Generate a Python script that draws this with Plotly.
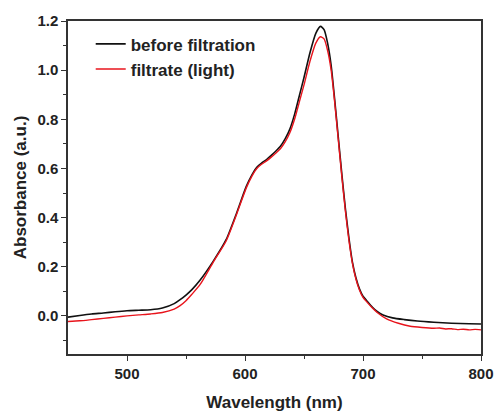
import plotly.graph_objects as go

# Black: before filtration
wl_before = [450, 460, 470, 480, 490, 500, 510, 520, 530, 540, 545, 550, 555, 562, 573,
             584, 593, 601, 606, 610, 614, 618, 622, 626, 630, 634, 638, 642, 646, 650,
             655, 660, 664, 667, 670, 673, 676, 679, 682, 685, 688, 691, 694, 697, 700,
             703, 708, 712, 717, 725, 735, 746, 760, 775, 790, 800]
abs_before = [-0.005, 0.002, 0.008, 0.012, 0.017, 0.021, 0.023, 0.025, 0.032, 0.050, 0.066, 0.085, 0.107, 0.146, 0.222,
              0.310, 0.420, 0.526, 0.575, 0.605, 0.622, 0.635, 0.652, 0.670, 0.690, 0.720, 0.760, 0.820, 0.895, 0.970,
              1.070, 1.150, 1.178, 1.165, 1.110, 1.020, 0.880, 0.730, 0.580, 0.440, 0.320, 0.220, 0.155, 0.110, 0.080,
              0.063, 0.035, 0.018, 0.004, -0.008, -0.015, -0.021, -0.026, -0.030, -0.032, -0.033]

# Red: filtrate (light)
wl_filtrate = [450, 460, 470, 480, 490, 500, 510, 520, 530, 540, 545, 550, 555, 562, 573,
               584, 593, 601, 606, 610, 614, 618, 622, 626, 630, 634, 638, 642, 646, 650,
               655, 660, 664, 667, 670, 673, 676, 679, 682, 685, 688, 691, 694, 697, 700,
               703, 708, 712, 720, 730, 740, 750, 760, 765, 770, 775, 780, 785, 790, 795, 800]
abs_filtrate = [-0.023, -0.020, -0.015, -0.010, -0.005, 0.000, 0.004, 0.008, 0.014, 0.028, 0.042, 0.062, 0.088, 0.128, 0.218,
                0.305, 0.415, 0.520, 0.570, 0.600, 0.617, 0.630, 0.645, 0.662, 0.680, 0.708, 0.745, 0.800, 0.870, 0.940,
                1.035, 1.110, 1.136, 1.127, 1.080, 1.000, 0.870, 0.720, 0.570, 0.430, 0.310, 0.215, 0.150, 0.105, 0.075,
                0.058, 0.032, 0.014, -0.012, -0.030, -0.042, -0.047, -0.050, -0.049, -0.053, -0.052, -0.056, -0.054, -0.057, -0.055, -0.057]

x_ticks = [500, 600, 700, 800]
y_ticks = [0.0, 0.2, 0.4, 0.6, 0.8, 1.0, 1.2]

font_family = "Liberation Sans, Arial, sans-serif"

fig = go.Figure()
fig.add_trace(go.Scatter(x=wl_before, y=abs_before, mode="lines", name="before filtration",
                         line=dict(color="#111111", width=1.6, shape="spline", smoothing=0.6)))
fig.add_trace(go.Scatter(x=wl_filtrate, y=abs_filtrate, mode="lines", name="filtrate (light)",
                         line=dict(color="#e8141c", width=1.4, shape="spline", smoothing=0.6)))

axis_common = dict(
    showgrid=False, zeroline=False, showline=True, linecolor="#333333", linewidth=1.5,
    mirror=True, ticks="outside", ticklen=5, tickwidth=1.2, tickcolor="#333333",
    automargin=False,
    tickfont=dict(family=font_family, size=15, color="#222222", weight="bold"),
)

fig.update_layout(
    width=499, height=412,
    margin=dict(l=68, r=18, t=21, b=58),
    paper_bgcolor="white", plot_bgcolor="white",
    showlegend=True,
    legend=dict(x=0.055, y=0.984, xanchor="left", yanchor="top", bgcolor="rgba(0,0,0,0)",
                font=dict(family=font_family, size=17, color="#222222", weight="bold"),
                tracegroupgap=0, itemwidth=30),
    xaxis=dict(range=[450, 800], tickvals=x_ticks, ticktext=[str(v) for v in x_ticks],
               minor=dict(tickvals=[550, 650, 750], ticks="outside", ticklen=3, tickcolor="#333333"),
               title=dict(text="Wavelength (nm)", standoff=16,
                          font=dict(family=font_family, size=17, color="#222222", weight="bold")),
               **axis_common),
    yaxis=dict(range=[-0.155, 1.2], tickvals=y_ticks, ticktext=[f"{v:.1f}" for v in y_ticks],
               minor=dict(tickvals=[-0.1, 0.1, 0.3, 0.5, 0.7, 0.9, 1.1], ticks="outside", ticklen=3, tickcolor="#333333"),
               title=dict(text="Absorbance (a.u.)", standoff=6,
                          font=dict(family=font_family, size=17, color="#222222", weight="bold")),
               **axis_common),
)

fig.write_html("out.html", config={"displayModeBar": False},
               post_script="document.body.style.margin='0';")
